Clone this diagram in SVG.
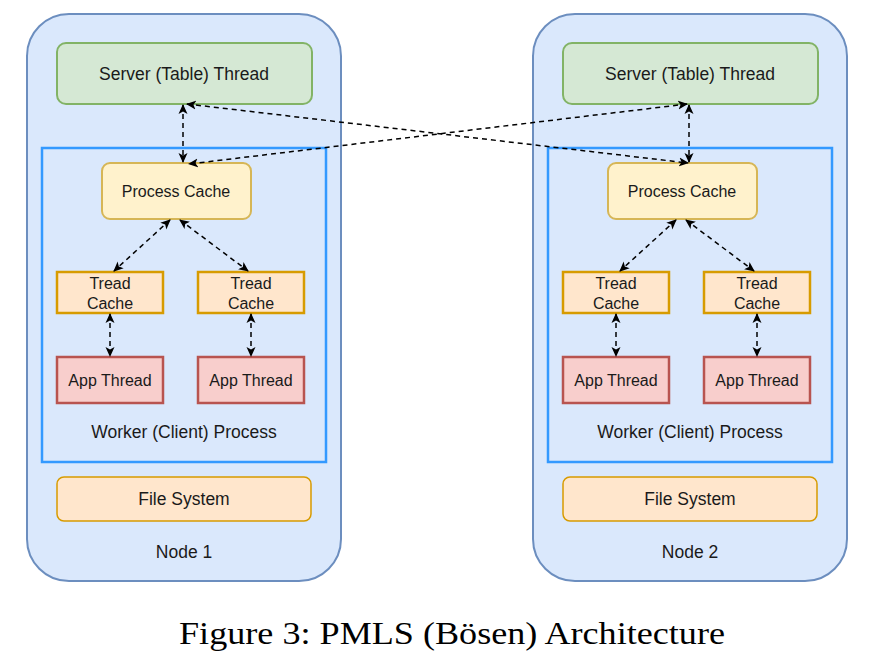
<svg xmlns="http://www.w3.org/2000/svg" width="875" height="656" viewBox="0 0 875 656">
<defs>
<marker id="ah" viewBox="0 0 10 10" refX="9" refY="5" markerWidth="10" markerHeight="10" markerUnits="userSpaceOnUse" orient="auto-start-reverse">
<path d="M0,0.5 L10,5 L0,9.5 L2.5,5 z" fill="#000"/>
</marker>
</defs>
<style>
.node{fill:#dae8fc;stroke:#6c8ebf;stroke-width:2}
.srv{fill:#d5e8d4;stroke:#82b366;stroke-width:2}
.pc{fill:#fff2cc;stroke:#d6b656;stroke-width:2}
.tc{fill:#ffe6cc;stroke:#d79b00;stroke-width:2.5}
.app{fill:#f8cecc;stroke:#b85450;stroke-width:2.5}
.fs{fill:#ffe6cc;stroke:#d79b00;stroke-width:1.5}
.wk{fill:none;stroke:#3399ff;stroke-width:2.5}
text{font-family:"Liberation Sans",Arial,sans-serif;fill:#1a1a1a;text-anchor:middle;dominant-baseline:central}
.t15{font-size:17.5px}
.t14{font-size:16px}
.cap{font-family:"Liberation Serif","Times New Roman",serif;font-size:32px;fill:#000;dominant-baseline:alphabetic;text-anchor:start}
.conn{fill:none;stroke:#000;stroke-width:1.5;stroke-dasharray:5,4;marker-start:url(#ah);marker-end:url(#ah)}
</style>

<g id="node1">
<rect class="node" x="27" y="14" width="314" height="567" rx="42"/>
<text class="t15" x="184" y="552">Node 1</text>
</g>
<g id="worker1">
<rect class="wk" x="42" y="148" width="284" height="314"/>
<text class="t15" x="184" y="432">Worker (Client) Process</text>
</g>
<g id="server1">
<rect class="srv" x="57" y="43" width="255" height="61" rx="9"/>
<text class="t15" x="184" y="74">Server (Table) Thread</text>
</g>
<g id="pcache1">
<rect class="pc" x="102" y="163" width="149" height="56" rx="8"/>
<text class="t14" x="176" y="191">Process Cache</text>
</g>
<g id="tcache1a">
<rect class="tc" x="57" y="272" width="106" height="41"/>
<text class="t14" x="110" y="283">Tread</text>
<text class="t14" x="110" y="303">Cache</text>
</g>
<g id="tcache1b">
<rect class="tc" x="198" y="272" width="106" height="41"/>
<text class="t14" x="251" y="283">Tread</text>
<text class="t14" x="251" y="303">Cache</text>
</g>
<g id="app1a">
<rect class="app" x="57" y="357" width="106" height="46"/>
<text class="t14" x="110" y="380">App Thread</text>
</g>
<g id="app1b">
<rect class="app" x="198" y="357" width="106" height="46"/>
<text class="t14" x="251" y="380">App Thread</text>
</g>
<g id="fs1">
<rect class="fs" x="57" y="477" width="254" height="44" rx="7"/>
<text class="t15" x="184" y="499">File System</text>
</g>

<g id="node2">
<rect class="node" x="533" y="14" width="314" height="567" rx="42"/>
<text class="t15" x="690" y="552">Node 2</text>
</g>
<g id="worker2">
<rect class="wk" x="548" y="148" width="284" height="314"/>
<text class="t15" x="690" y="432">Worker (Client) Process</text>
</g>
<g id="server2">
<rect class="srv" x="563" y="43" width="255" height="61" rx="9"/>
<text class="t15" x="690" y="74">Server (Table) Thread</text>
</g>
<g id="pcache2">
<rect class="pc" x="608" y="163" width="149" height="56" rx="8"/>
<text class="t14" x="682" y="191">Process Cache</text>
</g>
<g id="tcache2a">
<rect class="tc" x="563" y="272" width="106" height="41"/>
<text class="t14" x="616" y="283">Tread</text>
<text class="t14" x="616" y="303">Cache</text>
</g>
<g id="tcache2b">
<rect class="tc" x="704" y="272" width="106" height="41"/>
<text class="t14" x="757" y="283">Tread</text>
<text class="t14" x="757" y="303">Cache</text>
</g>
<g id="app2a">
<rect class="app" x="563" y="357" width="106" height="46"/>
<text class="t14" x="616" y="380">App Thread</text>
</g>
<g id="app2b">
<rect class="app" x="704" y="357" width="106" height="46"/>
<text class="t14" x="757" y="380">App Thread</text>
</g>
<g id="fs2">
<rect class="fs" x="563" y="477" width="254" height="44" rx="7"/>
<text class="t15" x="690" y="499">File System</text>
</g>

<g id="connectors">
<line class="conn" x1="183" y1="105" x2="183" y2="162"/>
<line class="conn" x1="689" y1="105" x2="689" y2="162"/>
<line class="conn" x1="187" y1="104" x2="688" y2="163"/>
<line class="conn" x1="687" y1="104" x2="189" y2="164"/>
<line class="conn" x1="170" y1="220" x2="114" y2="271"/>
<line class="conn" x1="180" y1="220" x2="248" y2="271"/>
<line class="conn" x1="676" y1="220" x2="620" y2="271"/>
<line class="conn" x1="686" y1="220" x2="754" y2="271"/>
<line class="conn" x1="110" y1="314" x2="110" y2="356"/>
<line class="conn" x1="251" y1="314" x2="251" y2="356"/>
<line class="conn" x1="616" y1="314" x2="616" y2="356"/>
<line class="conn" x1="757" y1="314" x2="757" y2="356"/>
</g>

<text class="cap" x="179" y="644" textLength="546" lengthAdjust="spacingAndGlyphs">Figure 3: PMLS (Bösen) Architecture</text>
</svg>
